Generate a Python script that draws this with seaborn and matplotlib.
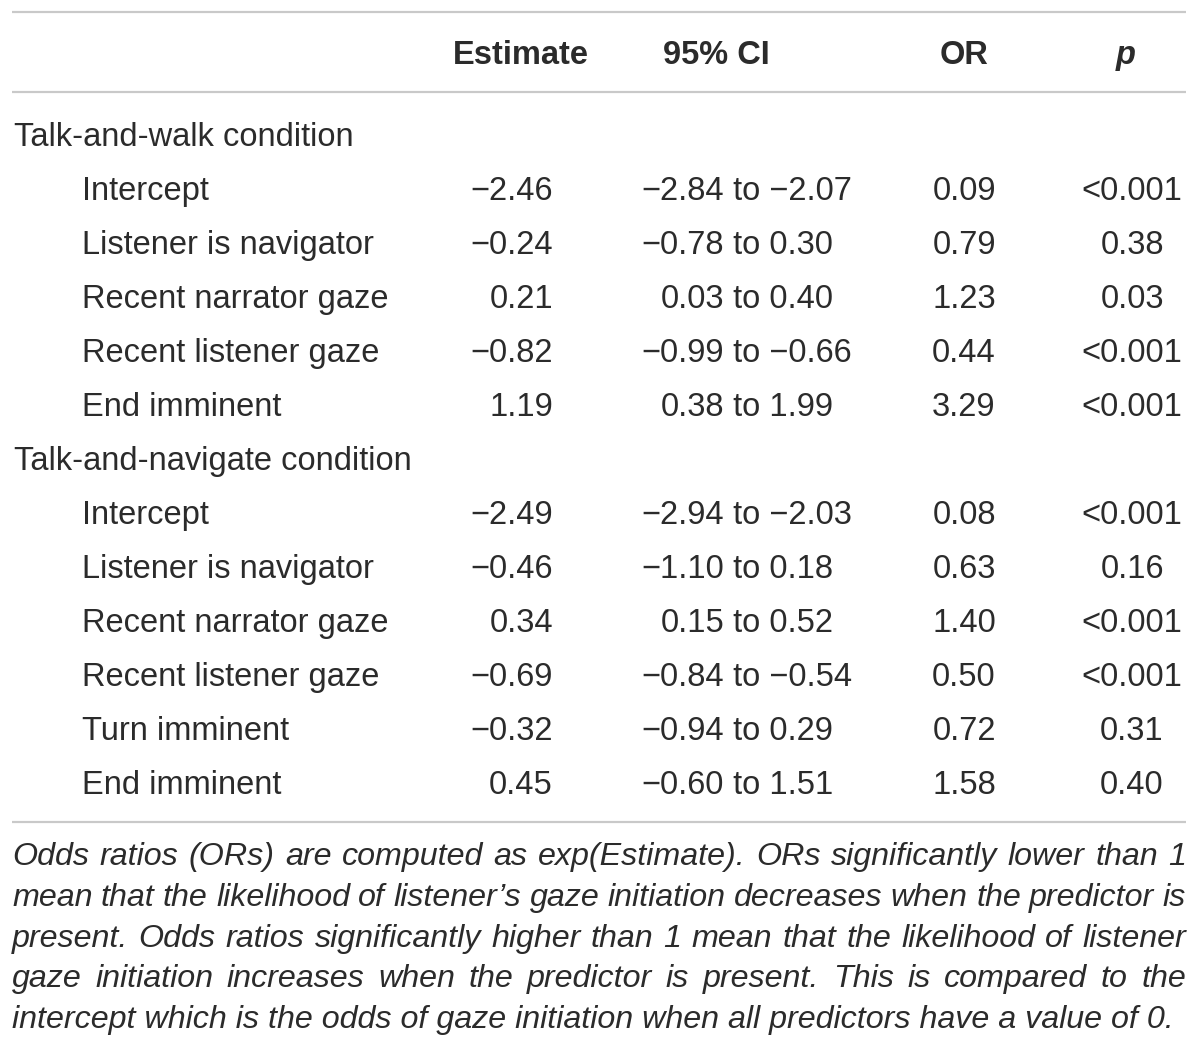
import seaborn as sns
import matplotlib.pyplot as plt
import matplotlib

sns.set_theme(style="white")
plt.rcParams['font.family'] = ['Liberation Sans', 'DejaVu Sans']

headers = ["Estimate", "95% CI", "OR", "p"]
groups = ["Talk-and-walk condition", "Talk-and-navigate condition"]
predictors = [
    ["Intercept", "Listener is navigator", "Recent narrator gaze",
     "Recent listener gaze", "End imminent"],
    ["Intercept", "Listener is navigator", "Recent narrator gaze",
     "Recent listener gaze", "Turn imminent", "End imminent"],
]
estimates = [
    ["−2.46", "−0.24", "0.21", "−0.82", "1.19"],
    ["−2.49", "−0.46", "0.34", "−0.69", "−0.32", "0.45"],
]
ci_low = [
    ["−2.84", "−0.78", "0.03", "−0.99", "0.38"],
    ["−2.94", "−1.10", "0.15", "−0.84", "−0.94", "−0.60"],
]
ci_high = [
    ["−2.07", "0.30", "0.40", "−0.66", "1.99"],
    ["−2.03", "0.18", "0.52", "−0.54", "0.29", "1.51"],
]
odds = [
    ["0.09", "0.79", "1.23", "0.44", "3.29"],
    ["0.08", "0.63", "1.40", "0.50", "0.72", "1.58"],
]
pvals = [
    ["<0.001", "0.38", "0.03", "<0.001", "<0.001"],
    ["<0.001", "0.16", "<0.001", "<0.001", "0.31", "0.40"],
]
note_lines = [
    "Odds ratios (ORs) are computed as exp(Estimate). ORs significantly lower than 1",
    "mean that the likelihood of listener’s gaze initiation decreases when the predictor is",
    "present. Odds ratios significantly higher than 1 mean that the likelihood of listener",
    "gaze initiation increases when the predictor is present. This is compared to the",
    "intercept which is the odds of gaze initiation when all predictors have a value of 0.",
]

W, H = 1200, 1055
fig = plt.figure(figsize=(W / 100, H / 100), dpi=100)
ax = fig.add_axes([0, 0, 1, 1])
ax.set_xlim(0, W)
ax.set_ylim(H, 0)
ax.axis("off")

txt = "#2b2b2b"
rule = "#c9c9c9"
fs = 23.5
fs_note = 23.2
left, right = 12, 1186

for y in [12, 92, 822]:
    ax.plot([left, right], [y, y], color=rule, lw=1.6, solid_capstyle="butt")

# header
hx = [521, 716, 964, 1126]
for h, x in zip(headers, hx):
    ax.text(x, 64, h, ha="center", va="baseline", fontsize=fs, color=txt,
            fontweight="bold", fontstyle="italic" if h == "p" else "normal")

# body
y = 146
step = 54
for g in range(len(groups)):
    ax.text(14, y, groups[g], ha="left", va="baseline", fontsize=fs, color=txt)
    y += step
    for r in range(len(predictors[g])):
        ax.text(82, y, predictors[g][r], ha="left", va="baseline", fontsize=fs, color=txt)
        ax.text(553, y, estimates[g][r], ha="right", va="baseline", fontsize=fs, color=txt)
        ax.text(724, y, ci_low[g][r], ha="right", va="baseline", fontsize=fs, color=txt)
        ax.text(724, y, " to " + ci_high[g][r], ha="left", va="baseline", fontsize=fs, color=txt)
        ax.text(964, y, odds[g][r], ha="center", va="baseline", fontsize=fs, color=txt)
        ax.text(1132, y, pvals[g][r], ha="center", va="baseline", fontsize=fs, color=txt)
        y += step

# justified footnote
fig.canvas.draw()
renderer = fig.canvas.get_renderer()
px_per_unit = ax.transData.transform((1, 0))[0] - ax.transData.transform((0, 0))[0]
ny = 865
for i, line in enumerate(note_lines):
    if i == len(note_lines) - 1:
        ax.text(left, ny, line, ha="left", va="baseline", fontsize=fs_note,
                fontstyle="italic", color=txt)
    else:
        words = line.split(" ")
        widths = []
        for w in words:
            t = ax.text(0, 0, w, fontsize=fs_note, fontstyle="italic")
            widths.append(t.get_window_extent(renderer).width / px_per_unit)
            t.remove()
        gap = (right - left - sum(widths)) / (len(words) - 1)
        x = left
        for w, wd in zip(words, widths):
            ax.text(x, ny, w, ha="left", va="baseline", fontsize=fs_note,
                    fontstyle="italic", color=txt)
            x += wd + gap
    ny += 40.8

fig.savefig("out.png", dpi=100, facecolor="white")
